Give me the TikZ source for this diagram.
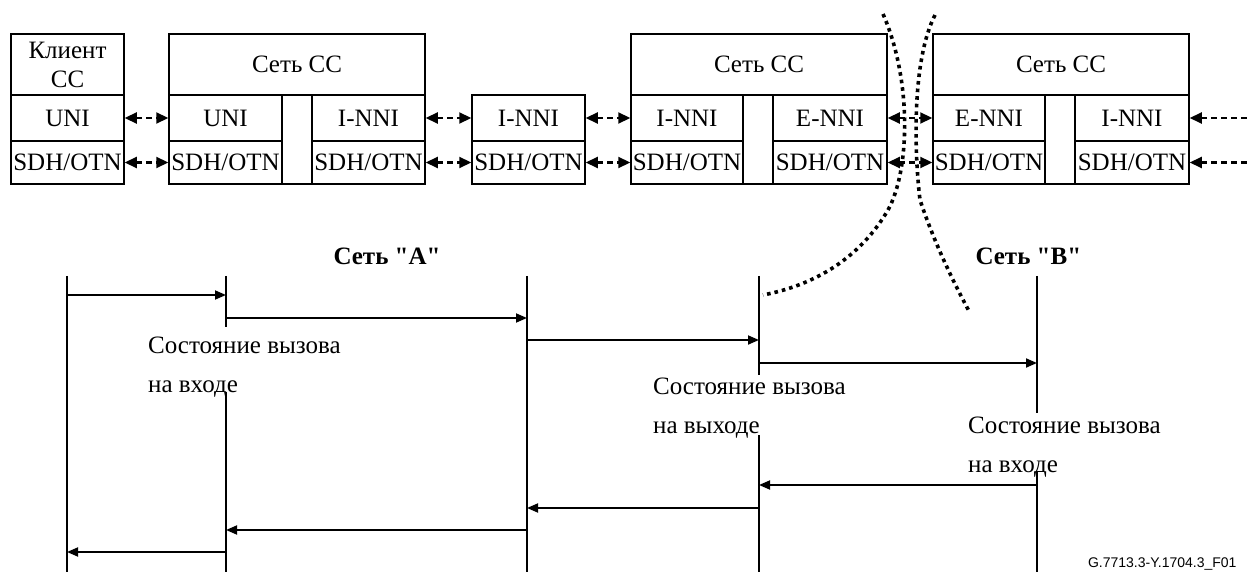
\documentclass[tikz,border=0pt]{standalone}
\usepackage{fontspec}
\setmainfont{Liberation Serif}[Ligatures=TeXOff]
\newfontfamily\capfont{Liberation Sans}
\usetikzlibrary{arrows.meta}

\begin{document}
\begin{tikzpicture}[x=1pt, y=-1pt, >={Triangle[length=11pt,width=9pt]},
  every node/.style={font=\fontsize{25}{29}\selectfont},
  cell/.style={draw, line width=1.5pt, inner sep=0pt},
  hdr/.style={cell, minimum height=61pt},
  ifc/.style={cell, minimum height=46pt},
  trp/.style={cell, minimum height=43pt},
  link/.style={{Triangle[length=12pt,width=11pt]}-{Triangle[length=12pt,width=11pt]}, line width=2.2pt, dash pattern=on 6pt off 4pt},
  msg/.style={->, line width=1.8pt},
  life/.style={line width=2pt},
  cut/.style={line width=3.6pt, dash pattern=on 3.6pt off 4pt},
  state/.style={align=left, anchor=base west, inner sep=0pt, font=\fontsize{25}{39}\selectfont}]

\useasboundingbox (0,0) rectangle (1248,572);

% Client CC
\node[hdr, minimum width=113pt, align=center] at (67.5,64.5) (chead) {Клиент\\СС};
\node[ifc, minimum width=113pt] at (67.5,118) (cuni) {UNI};
\node[trp, minimum width=113pt] at (67.5,162.5) (csdh) {SDH/OTN};

% Network CC 1
\node[hdr, minimum width=256pt] at (297,64.5) (n1head) {Сеть СС};
\node[ifc, minimum width=113pt] at (225.5,118) (n1uni) {UNI};
\node[trp, minimum width=113pt] at (225.5,162.5) (n1usdh) {SDH/OTN};
\node[cell, minimum width=30pt, minimum height=89pt] at (297,139.5) (n1gap) {};
\node[ifc, minimum width=113pt] at (368.5,118) (n1nni) {I-NNI};
\node[trp, minimum width=113pt] at (368.5,162.5) (n1nsdh) {SDH/OTN};

% Intermediate I-NNI
\node[ifc, minimum width=113pt] at (528.5,118) (mnni) {I-NNI};
\node[trp, minimum width=113pt] at (528.5,162.5) (msdh) {SDH/OTN};

% Network CC 2
\node[hdr, minimum width=256pt] at (759,64.5) (n2head) {Сеть СС};
\node[ifc, minimum width=112pt] at (687,118) (n2nni) {I-NNI};
\node[trp, minimum width=112pt] at (687,162.5) (n2nsdh) {SDH/OTN};
\node[cell, minimum width=30pt, minimum height=89pt] at (758,139.5) (n2gap) {};
\node[ifc, minimum width=114pt] at (830,118) (n2enni) {E-NNI};
\node[trp, minimum width=114pt] at (830,162.5) (n2esdh) {SDH/OTN};

% Network CC 3
\node[hdr, minimum width=256pt] at (1061,64.5) (n3head) {Сеть СС};
\node[ifc, minimum width=112pt] at (989,118) (n3enni) {E-NNI};
\node[trp, minimum width=112pt] at (989,162.5) (n3esdh) {SDH/OTN};
\node[cell, minimum width=30pt, minimum height=89pt] at (1060,139.5) (n3gap) {};
\node[ifc, minimum width=114pt] at (1132,118) (n3nni) {I-NNI};
\node[trp, minimum width=114pt] at (1132,162.5) (n3nsdh) {SDH/OTN};

% Incoming from the right
\coordinate (rin1) at (1248,118);
\coordinate (rin2) at (1248,162.5);

% Links between interfaces
\foreach \a/\b in {cuni/n1uni, csdh/n1usdh, n1nni/mnni, n1nsdh/msdh,
                   mnni/n2nni, msdh/n2nsdh, n2enni/n3enni, n2esdh/n3esdh}
  \draw[link] (\a) -- (\b);
\draw[link, {Triangle[length=12pt,width=11pt]}-] (n3nni) -- (rin1);
\draw[link, {Triangle[length=12pt,width=11pt]}-] (n3nsdh) -- (rin2);

% Domain boundary
\draw[cut] (883,14) .. controls (912,80) and (910,170) .. (888,210)
  .. controls (860,258) and (815,285) .. (763,295);
\draw[cut] (935,15) .. controls (912,60) and (914,150) .. (920,200)
  .. controls (935,245) and (955,285) .. (970,313);

% Network labels
\node[font=\fontsize{25}{29}\selectfont\bfseries, anchor=base west] at (330,265) (neta) {Сеть "A"};
\node[font=\fontsize{25}{29}\selectfont\bfseries, anchor=base west] at (972,265) (netb) {Сеть "B"};

% Lifelines
\foreach \n/\x in {l1/67, l2/226, l3/527, l4/759, l5/1037}
  \coordinate (\n) at (\x,276);
\draw[life] (l1) -- (l1 |- 0,572);
\draw[life] (l3) -- (l3 |- 0,572);
\draw[life] (l2) -- (l2 |- 0,327);
\draw[life] (l2 |- 0,392) -- (l2 |- 0,572);
\draw[life] (l4) -- (l4 |- 0,375);
\draw[life] (l4 |- 0,435) -- (l4 |- 0,572);
\draw[life] (l5) -- (l5 |- 0,413);
\draw[life] (l5 |- 0,472) -- (l5 |- 0,572);

% Call states
\node[state] at (148,392) (instate) {Состояние вызова\\на входе};
\node[state] at (653,433) (outstate) {Состояние вызова\\на выходе};
\node[state] at (968,472) (instateb) {Состояние вызова\\на входе};

% Messages
\foreach \s/\t/\y in {l1/l2/295, l2/l3/318, l3/l4/340, l4/l5/363,
                      l5/l4/485, l4/l3/508, l3/l2/530, l2/l1/552}
  \draw[msg] (\s |- 0,\y) -- (\t |- 0,\y);

% Figure id
\node[font=\capfont\fontsize{14}{16}\selectfont, anchor=base east] at (1240,567) (figid) {G.7713.3-Y.1704.3\_F01};

\end{tikzpicture}
\end{document}
